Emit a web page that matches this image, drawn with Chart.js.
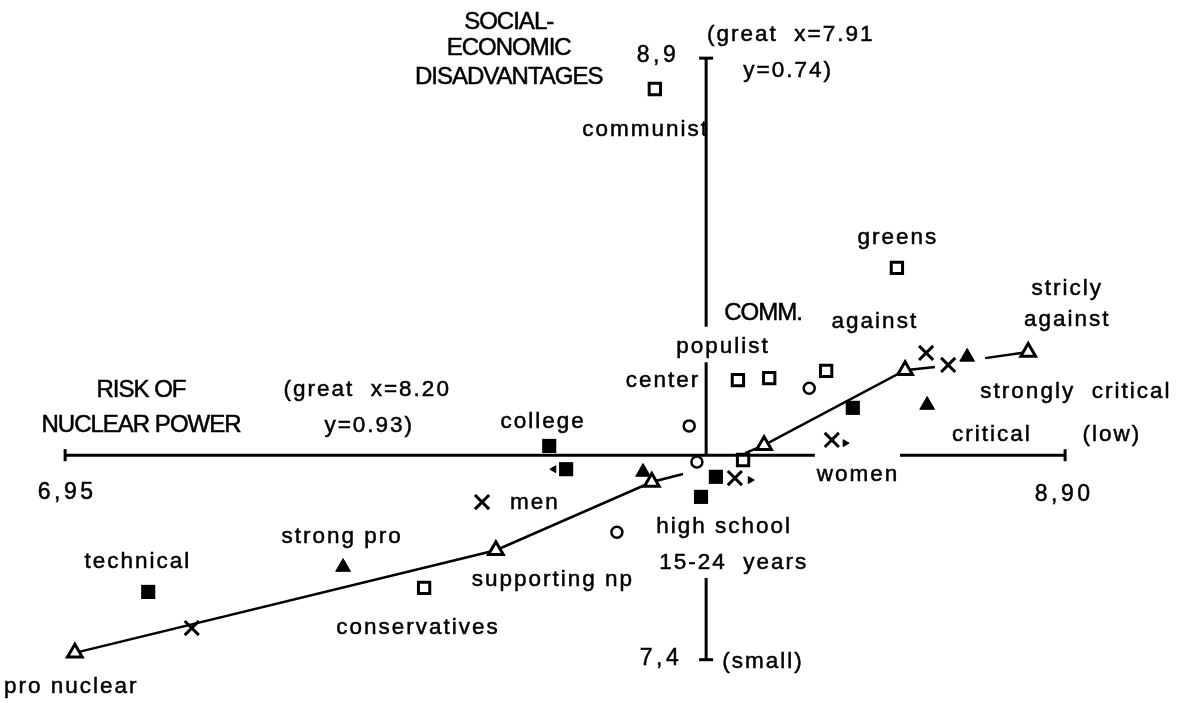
<!DOCTYPE html>
<html>
<head>
<meta charset="utf-8">
<script src="https://cdn.jsdelivr.net/npm/chart.js@4.4.1/dist/chart.umd.min.js"></script>
<style>
  html, body { margin: 0; padding: 0; background: #fff; }
  #wrap { width: 1181px; height: 703px; }
</style>
</head>
<body>
<div id="wrap"><canvas id="chart"></canvas></div>
<script>
// axes: risk of nuclear power (x) vs social-economic disadvantages (y)
const xEnds = [6.95, 8.90];
const yEnds = [7.4, 8.9];
const cross = { x: 8.20, y: 7.91 };
// places where the axis lines are interrupted by labels / markers
const hAxisBreak = [8.412, 8.578];
const vAxisBreaks = [[8.23, 8.142], [7.91, 7.604]];

// parties (open squares)
const partyX = [8.100, 8.572, 8.262, 8.323, 8.434, 7.650, 8.272];
const partyY = [8.823, 8.377, 8.097, 8.102, 8.120, 7.579, 7.898];
// education (filled squares)
const eduX = [7.894, 7.927, 7.112, 8.190, 8.219, 8.486];
const eduY = [7.933, 7.875, 7.569, 7.806, 7.856, 8.028];
// age groups (open circles)
const ageX = [8.167, 8.182, 8.026, 8.401];
const ageY = [7.983, 7.893, 7.718, 8.077];
// criticism of nuclear power (filled triangles)
const critX = [7.492, 8.077, 8.709, 8.631];
const critY = [7.631, 7.868, 8.155, 8.035];
// sex and other (crosses)
const sexX = [7.763, 7.197, 8.256, 8.445, 8.629, 8.672];
const sexY = [7.793, 7.479, 7.853, 7.948, 8.165, 8.135];
// attitude to nuclear power (open triangles joined by a line, null = break)
const attX = [6.969, 7.790, 8.094, 8.155, 8.215, 8.276, 8.313, 8.588, 8.646, 8.695, 8.744, 8.828];
const attY = [7.417, 7.673, 7.843, 7.863, null, 7.915, 7.935, 8.122, 8.130, null, 8.152, 8.167];
const attMarker = [1, 1, 1, 0, 0, 0, 1, 1, 0, 0, 0, 1];
// small pointer marks next to markers
const tickX = [7.903, 8.286, 8.471];
const tickY = [7.875, 7.848, 7.940];
const tickDir = [-90, 90, 90];

// text: [label, x, y, kind]
const labels = [
  ['SOCIAL-', 7.815, 8.990, 'caps'],
  ['ECONOMIC', 7.815, 8.925, 'caps'],
  ['DISADVANTAGES', 7.815, 8.853, 'caps'],
  ['8,9', 8.106, 8.905, 'num'],
  ['(great  x=7.91', 8.365, 8.958, 'txt'],
  ['y=0.74)', 8.360, 8.868, 'txt'],
  ['communist', 8.082, 8.722, 'txt'],
  ['greens', 8.574, 8.451, 'txt'],
  ['stricly', 8.904, 8.324, 'txt'],
  ['against', 8.904, 8.247, 'txt'],
  ['COMM.', 8.311, 8.264, 'caps'],
  ['against', 8.529, 8.242, 'txt'],
  ['populist', 8.233, 8.180, 'txt'],
  ['center', 8.116, 8.095, 'txt'],
  ['RISK OF', 7.098, 8.072, 'caps'],
  ['NUCLEAR POWER', 7.098, 7.985, 'caps'],
  ['(great  x=8.20', 7.539, 8.072, 'txt'],
  ['y=0.93)', 7.543, 7.983, 'txt'],
  ['college', 7.882, 7.993, 'txt'],
  ['strongly  critical', 8.921, 8.067, 'txt'],
  ['critical', 8.757, 7.960, 'txt'],
  ['(low)', 8.991, 7.960, 'txt'],
  ['6,95', 6.954, 7.816, 'num'],
  ['women', 8.496, 7.860, 'txt'],
  ['8,90', 8.898, 7.811, 'num'],
  ['men', 7.866, 7.791, 'txt'],
  ['high school', 8.235, 7.731, 'txt'],
  ['15-24  years', 8.254, 7.641, 'txt'],
  ['strong pro', 7.490, 7.706, 'txt'],
  ['technical', 7.092, 7.644, 'txt'],
  ['supporting np', 7.901, 7.599, 'txt'],
  ['conservatives', 7.638, 7.479, 'txt'],
  ['7,4', 8.112, 7.402, 'num'],
  ['(small)', 8.311, 7.394, 'txt'],
  ['pro nuclear', 6.962, 7.332, 'txt']
];

const pts = (xs, ys) => xs.map((x, i) => ({ x, y: ys[i] }));

const hAxis = [
  { x: xEnds[0], y: cross.y }, { x: hAxisBreak[0], y: cross.y },
  { x: (hAxisBreak[0] + hAxisBreak[1]) / 2, y: null },
  { x: hAxisBreak[1], y: cross.y }, { x: xEnds[1], y: cross.y }
];
const vAxis = [{ x: cross.x, y: yEnds[1] }];
for (const [a, b] of vAxisBreaks) {
  vAxis.push({ x: cross.x, y: a }, { x: cross.x, y: null }, { x: cross.x, y: b });
}
vAxis.push({ x: cross.x, y: yEnds[0] });

const black = '#000';
const base = { borderColor: black, backgroundColor: black, showLine: false };
const fonts = {
  caps: ['24px "Liberation Sans", Arial, sans-serif', '-1px'],
  txt: ['22.5px "Liberation Sans", Arial, sans-serif', '2px'],
  num: ['23px "Liberation Sans", Arial, sans-serif', '3.5px']
};

const labelPlugin = {
  id: 'labels',
  afterDatasetsDraw(chart) {
    const { ctx, scales: { x, y } } = chart;
    ctx.save();
    ctx.fillStyle = black;
    ctx.strokeStyle = black;
    ctx.lineWidth = 0.5;
    ctx.textAlign = 'center';
    ctx.textBaseline = 'middle';
    for (const [text, lx, ly, kind] of labels) {
      const [font, spacing] = fonts[kind];
      ctx.font = font;
      ctx.letterSpacing = spacing;
      const px = x.getPixelForValue(lx);
      const py = y.getPixelForValue(ly);
      ctx.fillText(text, px, py);
      ctx.strokeText(text, px, py);
    }
    ctx.restore();
  }
};

new Chart(document.getElementById('chart'), {
  type: 'scatter',
  data: {
    datasets: [
      { ...base, data: hAxis, showLine: true, borderWidth: 3, pointRadius: 0, spanGaps: false },
      { ...base, data: vAxis, showLine: true, borderWidth: 3, pointRadius: 0, spanGaps: false },
      { ...base, data: xEnds.map(x => ({ x, y: cross.y })), pointStyle: 'line', rotation: 90, pointRadius: 6, borderWidth: 3 },
      { ...base, data: yEnds.map(y => ({ x: cross.x, y })), pointStyle: 'line', pointRadius: 7, borderWidth: 3 },
      {
        ...base, data: pts(attX, attY), showLine: true, spanGaps: false, borderWidth: 2.5,
        pointStyle: 'triangle', pointRadius: attMarker.map(m => m ? 8.5 : 0),
        pointBackgroundColor: '#fff', pointBorderWidth: 3
      },
      { ...base, data: pts(partyX, partyY), pointStyle: 'rect', pointRadius: 8, backgroundColor: '#fff', borderWidth: 3 },
      { ...base, data: pts(eduX, eduY), pointStyle: 'rect', pointRadius: 10, borderWidth: 0 },
      { ...base, data: pts(ageX, ageY), pointStyle: 'circle', pointRadius: 5.5, backgroundColor: '#fff', borderWidth: 2.5 },
      { ...base, data: pts(critX, critY), pointStyle: 'triangle', pointRadius: 8.5, borderWidth: 1 },
      { ...base, data: pts(sexX, sexY), pointStyle: 'crossRot', pointRadius: 10, borderWidth: 3 },
      { ...base, data: pts(tickX, tickY), pointStyle: 'triangle', pointRadius: 4, rotation: tickDir, borderWidth: 1 }
    ]
  },
  options: {
    responsive: true,
    maintainAspectRatio: false,
    animation: false,
    events: [],
    layout: { padding: 0, autoPadding: false },
    plugins: { legend: { display: false }, tooltip: { enabled: false } },
    scales: {
      x: { type: 'linear', min: 6.823, max: 9.126, display: false },
      y: { type: 'linear', min: 7.292, max: 9.045, display: false }
    }
  },
  plugins: [labelPlugin]
});
</script>
</body>
</html>
